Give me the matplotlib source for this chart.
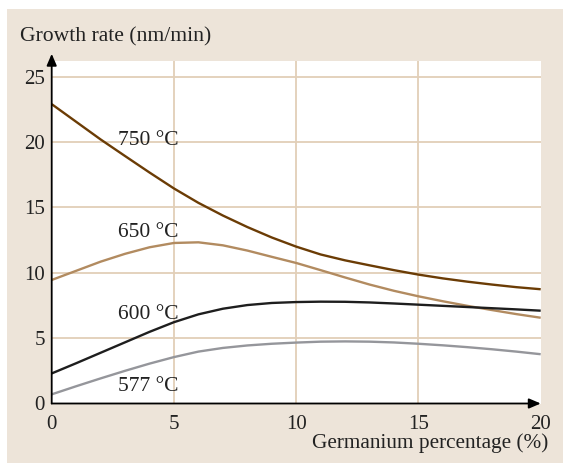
import matplotlib
matplotlib.use('Agg')
import matplotlib.pyplot as plt
from matplotlib.patches import Rectangle

# Data
germanium = [0, 1, 2, 3, 4, 5, 6, 7, 8, 9, 10, 11, 12, 13, 14, 15, 16, 17, 18, 19, 20]
rate_750 = [22.9, 21.55, 20.2, 18.93, 17.67, 16.45, 15.35, 14.38, 13.5, 12.7, 12.0,
            11.4, 10.95, 10.57, 10.2, 9.86, 9.57, 9.32, 9.1, 8.9, 8.74]
rate_650 = [9.45, 10.15, 10.85, 11.45, 11.95, 12.28, 12.33, 12.1, 11.7, 11.22, 10.75,
            10.2, 9.64, 9.1, 8.62, 8.2, 7.82, 7.47, 7.15, 6.84, 6.56]
rate_600 = [2.3, 3.08, 3.88, 4.68, 5.48, 6.22, 6.82, 7.25, 7.53, 7.69, 7.76,
            7.79, 7.78, 7.73, 7.65, 7.56, 7.47, 7.38, 7.29, 7.2, 7.1]
rate_577 = [0.7, 1.32, 1.92, 2.5, 3.05, 3.55, 3.97, 4.25, 4.44, 4.57, 4.66,
            4.73, 4.75, 4.73, 4.67, 4.57, 4.45, 4.31, 4.15, 3.97, 3.77]

series = [
    ('750 °C', rate_750, '#6b3c05', 19.8),
    ('650 °C', rate_650, '#b28b60', 12.7),
    ('600 °C', rate_600, '#1e1e1e', 6.5),
    ('577 °C', rate_577, '#95969b', 0.97),
]
x_ticks = [0, 5, 10, 15, 20]
y_ticks = [0, 5, 10, 15, 20, 25]

BEIGE = '#ede4d9'
GRID = '#e2cfb8'
FONT = 'Liberation Serif'

fig = plt.figure(figsize=(5.63, 4.63), dpi=100, facecolor='white')
fig.add_artist(Rectangle((7 / 563, 0), 1 - 7 / 563, 1 - 9 / 463,
                         transform=fig.transFigure, facecolor=BEIGE,
                         edgecolor='none', zorder=-10))

ax = fig.add_axes([51.7 / 563, 1 - 403.5 / 463, (540.7 - 51.7) / 563, 342.5 / 463])
ax.set_zorder(1)
ax.set_facecolor('white')
ax.set_xlim(0, 20)
ax.set_ylim(0, 26.2)
for s in ax.spines.values():
    s.set_visible(False)

ax.set_xticks(x_ticks)
ax.set_yticks(y_ticks)
ax.tick_params(length=0, labelsize=15, pad=5)
ax.tick_params(axis='x', pad=8)
for lab in ax.get_xticklabels() + ax.get_yticklabels():
    lab.set_family(FONT)
    lab.set_color('#222222')

for v in x_ticks[1:-1]:
    ax.axvline(v, color=GRID, lw=1.3, zorder=1)
for v in y_ticks[1:]:
    ax.axhline(v, color=GRID, lw=1.3, zorder=1)

for label, ys, color, ty in series:
    ax.plot(germanium, ys, color=color, lw=1.7, zorder=3,
            solid_capstyle='butt', solid_joinstyle='round')
    ax.text(2.73, ty, label, family=FONT, fontsize=15.5, color='#222222',
            va='baseline', ha='left', zorder=4)

# axes with arrow heads
arrow = dict(arrowstyle='-|>,head_length=0.7,head_width=0.3', color='black',
             lw=1.3, shrinkA=0, shrinkB=0)
ax.annotate('', xy=(0, 26.75), xytext=(0, 0), arrowprops=arrow,
            annotation_clip=False, zorder=5)
ax.annotate('', xy=(20.0, 0), xytext=(0, 0), arrowprops=arrow,
            annotation_clip=False, zorder=5)

fig.text(20 / 563, 1 - 41.7 / 463, 'Growth rate (nm/min)', family=FONT,
         fontsize=15.6, color='#222222', ha='left', va='baseline')
fig.text(548 / 563, 1 - 448 / 463, 'Germanium percentage (%)', family=FONT,
         fontsize=15.3, color='#222222', ha='right', va='baseline')

fig.savefig('out.png', dpi=100, facecolor=fig.get_facecolor())
